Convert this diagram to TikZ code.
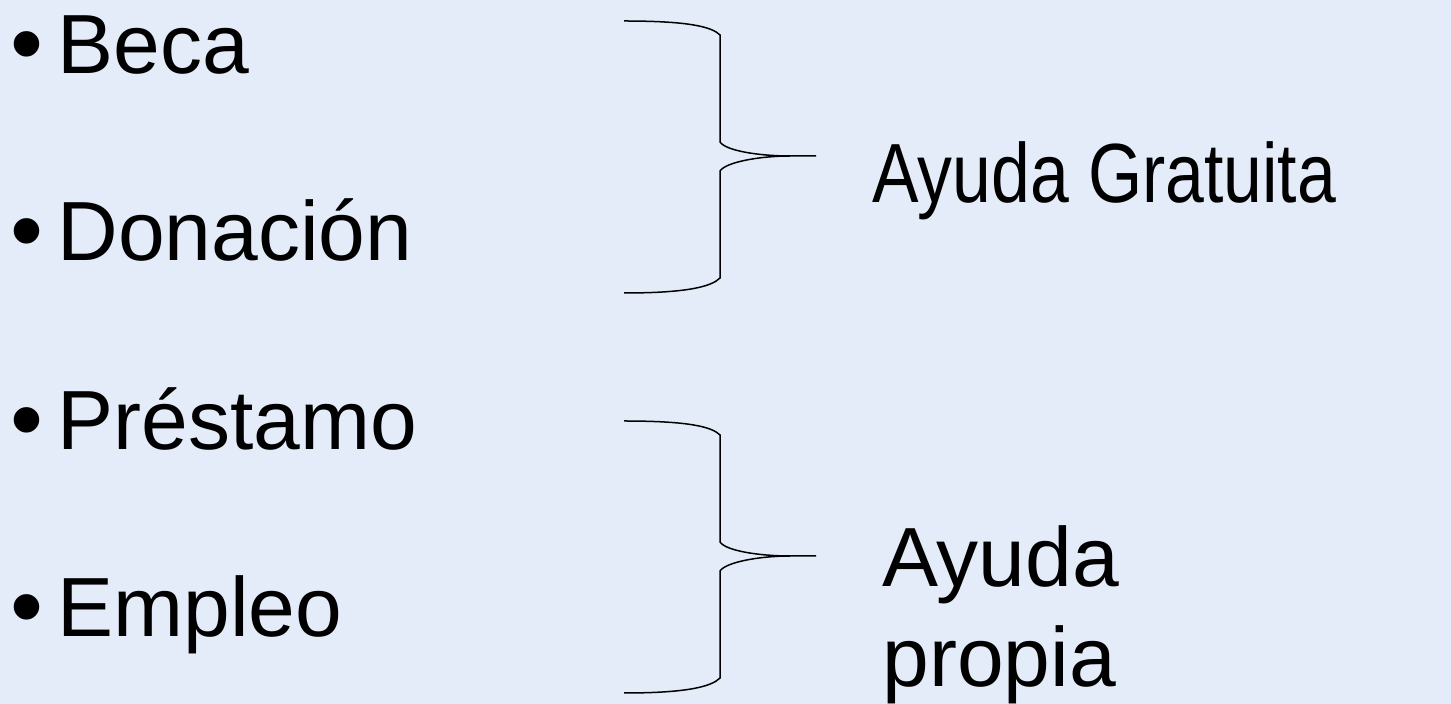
\documentclass[tikz,border=0pt]{standalone}
\usepackage{fontspec}
\usepackage{xcolor}
\setmainfont{Liberation Sans}
\definecolor{fondo}{RGB}{228,236,249}

\tikzset{
  item/.style={anchor=base west, inner sep=0pt, font=\fontsize{42}{50}\selectfont},
  tipo/.style={anchor=base west, inner sep=0pt, align=left, font=\fontsize{42}{50}\selectfont},
  llave/.style={draw=black, line width=0.75pt}
}
\newcommand{\vineta}[1]{\llap{\raisebox{-1pt}{\scalebox{1.12}{\textbullet}}\hspace{7.2pt}}#1}

\begin{document}
\begin{tikzpicture}[x=0.5pt,y=-0.5pt]
  \fill[fondo] (0,0) rectangle (1451,704);
  \useasboundingbox (0,0) rectangle (1451,704);

  % items
  \node[item] (beca) at (57,74) {\vineta{Beca}};
  \node[item] (donacion) at (57,261) {\vineta{Donación}};
  \node[item] (prestamo) at (57,450) {\vineta{Préstamo}};
  \node[item] (empleo) at (57,637) {\vineta{Empleo}};

  % llaves
  \draw[llave] (624,21) .. controls (690,21) and (712,27) .. (720,35) -- (720,142)
    .. controls (726,151) and (760,156) .. (790,156) -- (816,156);
  \draw[llave] (790,156) .. controls (760,156) and (726,162) .. (720,171) -- (720,278)
    .. controls (712,286) and (690,293) .. (624,293);

  \draw[llave] (624,421) .. controls (690,421) and (712,427) .. (720,435) -- (720,542)
    .. controls (726,551) and (760,556) .. (790,556) -- (816,556);
  \draw[llave] (790,556) .. controls (760,556) and (726,562) .. (720,571) -- (720,678)
    .. controls (712,686) and (690,693) .. (624,693);

  \node[tipo] (gratuita) at (872,203) {\scalebox{0.83}[1]{Ayuda Gratuita}};
  \node[tipo] (propia) at (882,687) {Ayuda\\propia};
\end{tikzpicture}
\end{document}
